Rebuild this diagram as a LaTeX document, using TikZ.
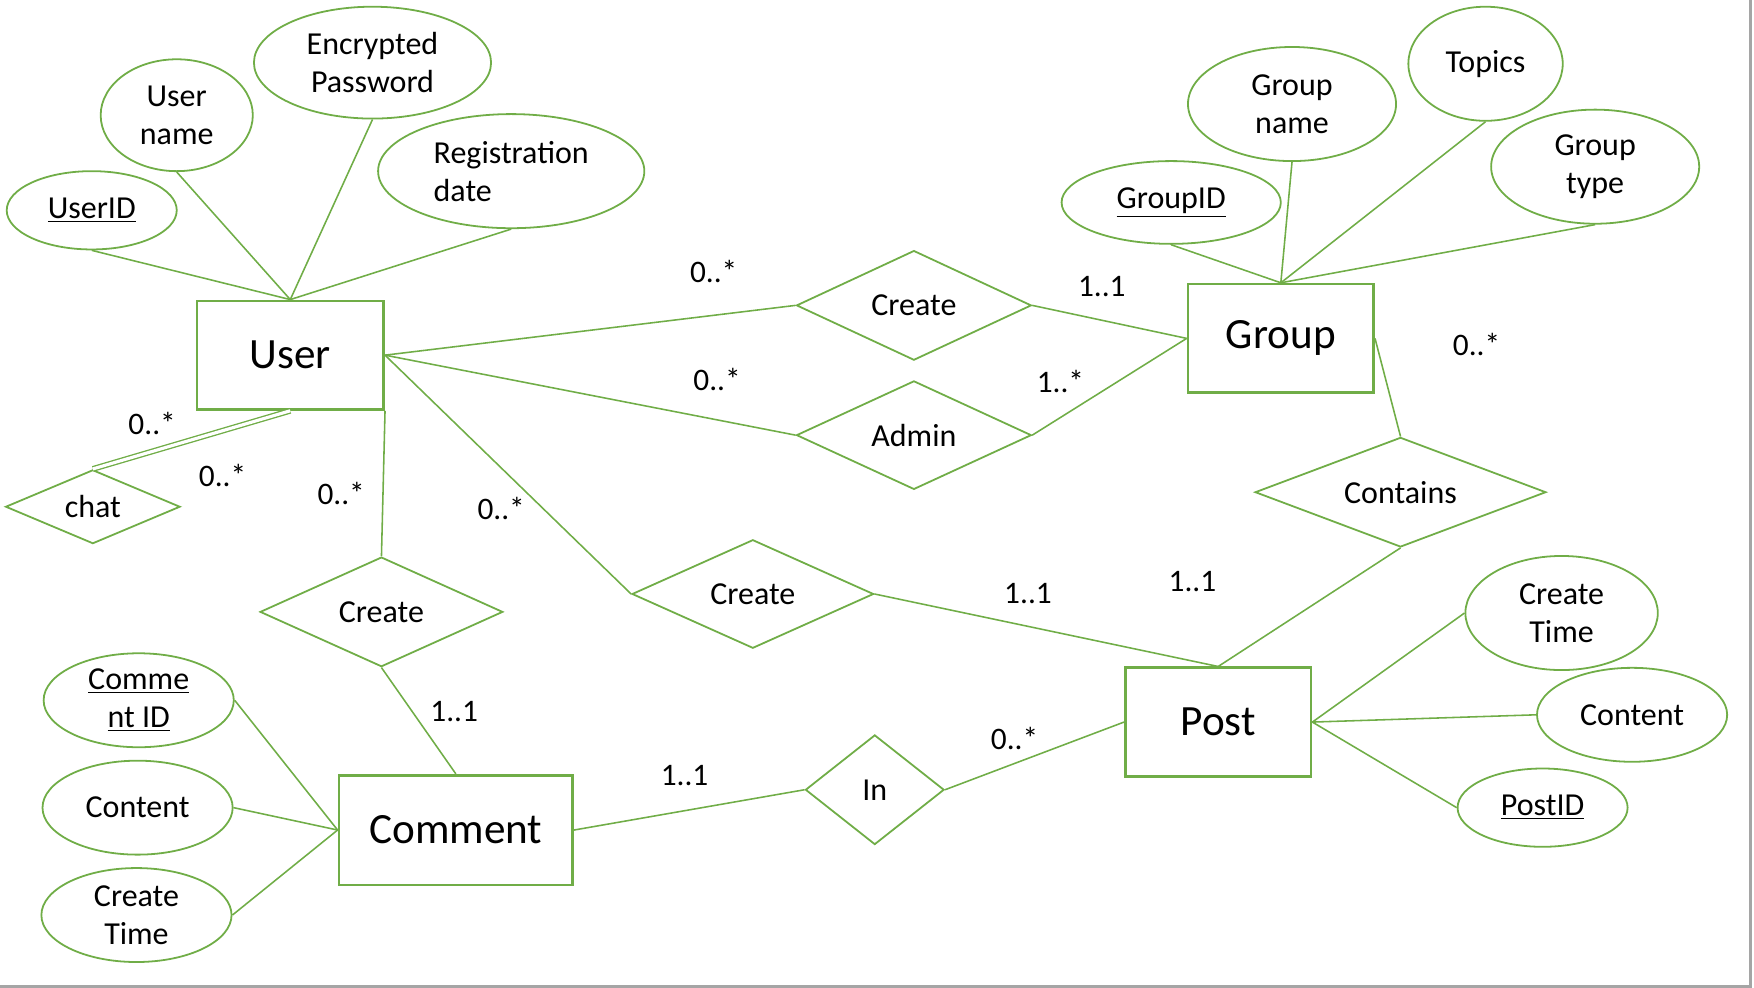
\documentclass[tikz,border=0pt]{standalone}
\usepackage{fontspec}
\setmainfont{Carlito}
\usepackage{tikz}
\usetikzlibrary{shapes.geometric}
\definecolor{ergreen}{RGB}{112,173,71}
\definecolor{edgegray}{RGB}{165,165,165}
\tikzset{
  entity/.style={draw=ergreen,line width=1.2pt,rectangle,inner sep=0pt,font=\fontsize{19.3}{23}\selectfont},
  attr/.style={draw=ergreen,line width=0.8pt,ellipse,inner sep=0pt,align=center,font=\fontsize{14.3}{17}\selectfont},
  rel/.style={draw=ergreen,line width=0.8pt,diamond,aspect=2,inner sep=0pt,font=\fontsize{14.3}{17}\selectfont},
  link/.style={draw=ergreen,line width=0.7pt},
  card/.style={inner sep=0pt,font=\fontsize{14}{17}\selectfont}
}
\begin{document}
\begin{tikzpicture}[x=0.5pt,y=-0.5pt]
  \useasboundingbox (0,0) rectangle (1568,883.2);
  \draw[edgegray,line width=1.3pt] (1565,0) -- (1565,882) -- (0,882);
  % entities
  \node[entity,minimum width=83.5pt,minimum height=48.5pt] (user) at (259.5,317.5) {User};
  \node[entity,minimum width=83pt,minimum height=48.5pt] (group) at (1145,302.5) {Group};
  \node[entity,minimum width=83pt,minimum height=48.5pt] (post) at (1089,645.5) {Post};
  \node[entity,minimum width=104.5pt,minimum height=49pt] (comment) at (407.5,742) {Comment};
  % user attributes
  \node[attr,minimum width=76pt,minimum height=35pt] (userid) at (82,188) {\underline{UserID}};
  \node[attr,minimum width=68pt,minimum height=50pt] (uname) at (158,103) {User\\name};
  \node[attr,minimum width=106pt,minimum height=50pt] (pwd) at (333,56) {Encrypted\\Password};
  \node[attr,minimum width=119pt,minimum height=51pt,align=left] (regdate) at (457,153) {Registration\\date};
  % group attributes
  \node[attr,minimum width=98pt,minimum height=37pt] (groupid) at (1047,181) {\underline{GroupID}};
  \node[attr,minimum width=93pt,minimum height=51pt] (gname) at (1155,93) {Group\\name};
  \node[attr,minimum width=69pt,minimum height=51pt] (topics) at (1328,57) {Topics};
  \node[attr,minimum width=93pt,minimum height=51pt] (gtype) at (1426,149) {Group\\type};
  % post attributes
  \node[attr,minimum width=86pt,minimum height=51pt] (ptime) at (1396,548) {Create\\Time};
  \node[attr,minimum width=85pt,minimum height=42pt] (pcontent) at (1459,639) {Content};
  \node[attr,minimum width=76pt,minimum height=35pt] (postid) at (1379,722) {\underline{PostID}};
  % comment attributes
  \node[attr,minimum width=85pt,minimum height=42pt] (cid) at (124,626) {\underline{Comme}\\\underline{nt ID}};
  \node[attr,minimum width=85pt,minimum height=42pt] (ccontent) at (123,722) {Content};
  \node[attr,minimum width=85pt,minimum height=42pt] (ctime) at (122,818) {Create\\Time};
  % relationships
  \node[rel,minimum width=105pt,minimum height=49pt] (createg) at (817,273) {Create};
  \node[rel,minimum width=105pt,minimum height=48.5pt] (admin) at (817,389) {Admin};
  \node[rel,minimum width=130pt,minimum height=49pt] (contains) at (1252,440) {Contains};
  \node[rel,minimum width=108pt,minimum height=48.5pt] (createp) at (673,531) {Create};
  \node[rel,minimum width=78pt,minimum height=33pt] (chat) at (83,453) {chat};
  \node[rel,minimum width=108.5pt,minimum height=49pt] (createc) at (341,547) {Create};
  \node[rel,minimum width=62pt,minimum height=49pt] (in) at (782,706) {In};
  % attribute links
  \draw[link] (userid.south) -- (user.north);
  \draw[link] (uname.south) -- (user.north);
  \draw[link] (pwd.south) -- (user.north);
  \draw[link] (regdate.south) -- (user.north);
  \draw[link] (groupid.south) -- (group.north);
  \draw[link] (gname.south) -- (group.north);
  \draw[link] (topics.south) -- (group.north);
  \draw[link] (gtype.south) -- (group.north);
  \draw[link] (post.east) -- (ptime.west);
  \draw[link] (post.east) -- (pcontent.west);
  \draw[link] (post.east) -- (postid.west);
  \draw[link] (comment.west) -- (cid.east);
  \draw[link] (comment.west) -- (ccontent.east);
  \draw[link] (comment.west) -- (ctime.east);
  % relationship links
  \draw[link] (user.east) -- (createg.west);
  \draw[link] (createg.east) -- (group.west);
  \draw[link] (user.east) -- (admin.west);
  \draw[link] (admin.east) -- (group.west);
  \draw[link] (group.east) -- (contains.north);
  \draw[link] (contains.south) -- (post.north);
  \draw[link] (user.east) -- (createp.west);
  \draw[link] (createp.east) -- (post.north);
  \draw[link] (user.south east) -- (createc.north);
  \draw[link] (createc.south) -- (comment.north);
  \draw[link] (comment.east) -- (in.west);
  \draw[link] (in.east) -- (post.west);
  \draw[ergreen,line width=0.6pt,double,double distance=1.4pt] (chat.north) -- (user.south);
  % cardinalities
  \node[card] at (638,243) {0..*};
  \node[card] at (985,256) {1..1};
  \node[card] at (641,339) {0..*};
  \node[card] at (948,341) {1..*};
  \node[card] at (1320,308) {0..*};
  \node[card] at (1066,520) {1..1};
  \node[card] at (919,531) {1..1};
  \node[card] at (448,455) {0..*};
  \node[card] at (136,379) {0..*};
  \node[card] at (199,425) {0..*};
  \node[card] at (305,441) {0..*};
  \node[card] at (406,636) {1..1};
  \node[card] at (612,693) {1..1};
  \node[card] at (907,660) {0..*};
\end{tikzpicture}
\end{document}
